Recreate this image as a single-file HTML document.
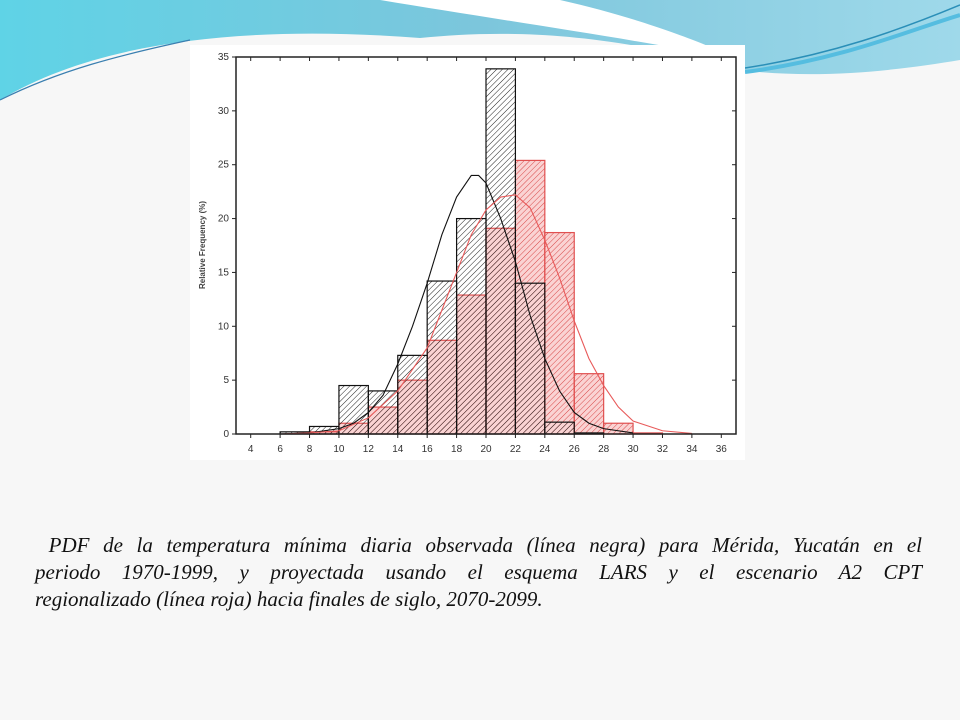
<!DOCTYPE html>
<html><head><meta charset="utf-8"><style>
html,body{margin:0;padding:0}
body{width:960px;height:720px;position:relative;overflow:hidden;background:#f7f7f7;font-family:"Liberation Sans",sans-serif}
#panel{position:absolute;left:190px;top:45px;width:555px;height:415px;background:#fff}
.cap{position:absolute;left:35px;width:887px;font-family:"Liberation Serif",serif;font-style:italic;font-size:21px;color:#111;white-space:nowrap}
.just{text-align:justify;text-align-last:justify}
</style></head><body>
<svg width="960" height="120" style="position:absolute;left:0;top:0">
<defs><linearGradient id="g1" x1="0" y1="0" x2="1" y2="0"><stop offset="0" stop-color="#5fd3e6"/><stop offset="0.5" stop-color="#7cc6dc"/><stop offset="1" stop-color="#9fd9ea"/></linearGradient></defs>
<path d="M0 0H960V60C900 70 820 80 740 70C600 30 500 30 420 38C250 25 100 40 0 100Z" fill="url(#g1)"/>
<path d="M380 0H560C650 20 720 50 740 60C640 40 500 20 380 0Z" fill="#fff"/>
<path d="M0 100C60 70 120 55 190 40" stroke="#3a7fb0" fill="none" stroke-width="1.2"/>
<path d="M745 68C830 55 900 30 960 5" stroke="#2a8fb8" fill="none" stroke-width="1.5"/>
<path d="M745 72C840 60 910 30 960 15" stroke="#55bde0" fill="none" stroke-width="4"/>
</svg>
<div id="panel"></div>
<svg id="chart" width="960" height="720" style="position:absolute;left:0;top:0">
<defs>
<pattern id="hb" width="4" height="4" patternUnits="userSpaceOnUse" patternTransform="rotate(45)"><rect width="4" height="4" fill="none"/><line x1="0" y1="0" x2="0" y2="4" stroke="#222" stroke-width="1"/></pattern>
<pattern id="hr" width="4" height="4" patternUnits="userSpaceOnUse" patternTransform="rotate(45)"><rect width="4" height="4" fill="rgba(240,130,130,0.35)"/><line x1="0" y1="0" x2="0" y2="4" stroke="#d84848" stroke-width="1"/></pattern>
</defs>
<g id="layer"></g>
</svg>
<div class="cap just" style="top:533px">&nbsp;PDF de la temperatura mínima diaria observada (línea negra) para Mérida, Yucatán en el</div>
<div class="cap just" style="top:560px">periodo 1970-1999, y proyectada usando el esquema LARS y el escenario A2 CPT</div>
<div class="cap" style="top:587px">regionalizado (línea roja) hacia finales de siglo, 2070-2099.</div>
<script>
const binStarts=[6,8,10,12,14,16,18,20,22,24,26,28,30];
const observedFreq=[0.2,0.7,4.5,4.0,7.3,14.2,20.0,33.9,14.0,1.1,0.1,0,0];
const projectedFreq=[0,0.2,1.0,2.5,5.0,8.7,12.9,19.1,25.4,18.7,5.6,1.0,0.1];
const obsCurveX=[6,8,10,11,12,13,14,15,16,17,18,19,19.5,20,21,22,23,24,25,26,27,28,30];
const obsCurveY=[0,0.1,0.5,1.0,2.0,3.6,6.5,10,14,18.5,22,24,24,23.3,20,16,11,7,4,2,1,0.5,0.1];
const projCurveX=[6,8,10,12,14,16,17,18,19,20,21,22,23,24,25,26,27,28,29,30,32,34];
const projCurveY=[0,0.1,0.3,1.5,4,8,11.5,15,18.5,20.8,22,22.2,21,18,14.5,10.5,7,4.5,2.5,1.2,0.3,0.05];
const xTicks=[4,6,8,10,12,14,16,18,20,22,24,26,28,30,32,34,36];
const yTicks=[0,5,10,15,20,25,30,35];
const L=236,R=736,T=57,B=434,X0=3,X1=37,Y1=35;
const sx=v=>L+(v-X0)/(X1-X0)*(R-L);
const sy=v=>B-v/Y1*(B-T);
const NS='http://www.w3.org/2000/svg';
const g=document.getElementById('layer');
function mk(t,a){const e=document.createElementNS(NS,t);for(const k in a)e.setAttribute(k,a[k]);g.appendChild(e);return e;}
projectedFreq.forEach((v,i)=>{if(v<=0)return;
 const e=mk('rect',{x:sx(binStarts[i]),y:sy(v),width:sx(binStarts[i]+2)-sx(binStarts[i]),height:B-sy(v),fill:'url(#hr)',stroke:'#e05050','stroke-width':1.2});
 
 });
observedFreq.forEach((v,i)=>{if(v<=0)return;
 const e=mk('rect',{x:sx(binStarts[i]),y:sy(v),width:sx(binStarts[i]+2)-sx(binStarts[i]),height:B-sy(v),fill:'url(#hb)',stroke:'#111','stroke-width':1.2});
 
 });
function line(xs,ys,c,n){const e=mk('polyline',{points:xs.map((x,i)=>sx(x)+','+sy(ys[i])).join(' '),fill:'none',stroke:c,'stroke-width':1.1});
 
 }
line(obsCurveX,obsCurveY,'#111','observed-pdf-curve');
line(projCurveX,projCurveY,'#e85a5a','projected-pdf-curve');
const f=mk('rect',{x:L,y:T,width:R-L,height:B-T,fill:'none',stroke:'#222','stroke-width':1.5});


xTicks.forEach(v=>{
 mk('line',{x1:sx(v),x2:sx(v),y1:B,y2:B+4,stroke:'#222'});
 mk('line',{x1:sx(v),x2:sx(v),y1:T,y2:T+4,stroke:'#222'});
 const t=mk('text',{x:sx(v),y:B+18,'text-anchor':'middle','font-size':10,fill:'#333','font-family':'Liberation Sans, sans-serif'});t.textContent=v;
 
 });
yTicks.forEach(v=>{
 mk('line',{x1:L-4,x2:L,y1:sy(v),y2:sy(v),stroke:'#222'});
 mk('line',{x1:R-4,x2:R,y1:sy(v),y2:sy(v),stroke:'#222'});
 const t=mk('text',{x:L-7,y:sy(v)+3,'text-anchor':'end','font-size':10,fill:'#333','font-family':'Liberation Sans, sans-serif'});t.textContent=v;
 
 });
const yt=mk('text',{x:205,y:245,'text-anchor':'middle','font-size':8,'font-weight':'bold',fill:'#444',transform:'rotate(-90 205 245)','font-family':'Liberation Sans, sans-serif'});
yt.textContent='Relative Frequency (%)';


</script>
</body></html>
